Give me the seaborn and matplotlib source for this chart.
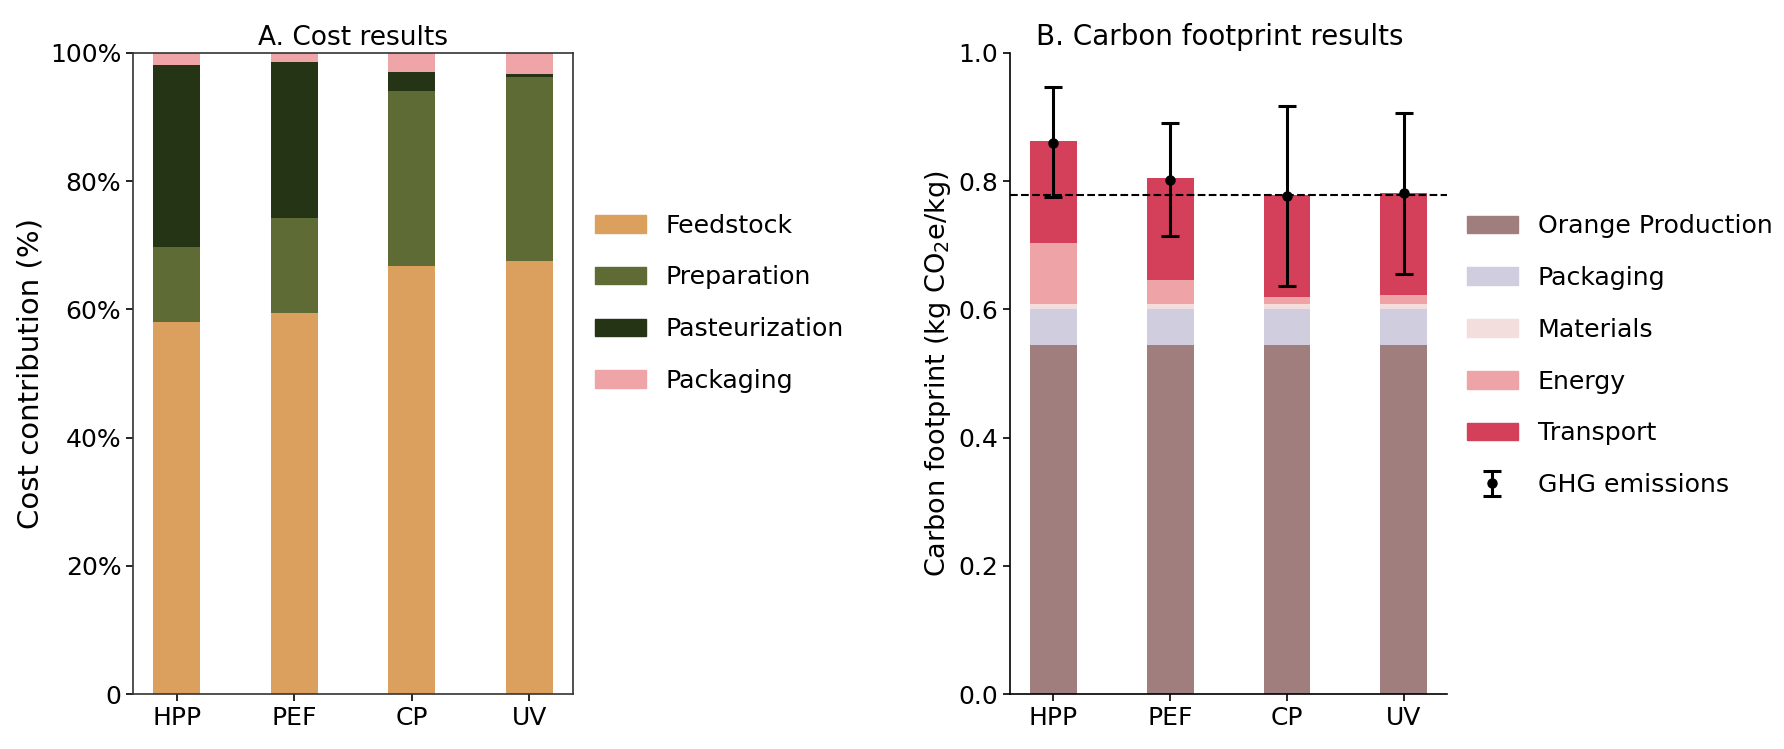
import numpy as np
import pandas as pd
import matplotlib
matplotlib.use("Agg")
import matplotlib.pyplot as plt
import matplotlib.patches as mpatches
import seaborn as sns

# Datos
procesos = ["HPP", "PEF", "CP", "UV"]

# A. Costes (% de contribución)
coste_cat = ["Feedstock", "Preparation", "Pasteurization", "Packaging"]
feedstock = [58.1, 59.4, 66.8, 67.6]
preparation = [11.6, 14.9, 27.2, 28.65]
pasteurization = [28.4, 24.2, 3.0, 0.45]
packaging_cost = [1.9, 1.5, 3.0, 3.3]
coste_colores = ["#DBA05E", "#5E6B35", "#263416", "#EFA5A7"]

# B. Huella de carbono (kg CO2e/kg)
huella_cat = ["Orange Production", "Packaging", "Materials", "Energy", "Transport"]
orange_prod = [0.545, 0.545, 0.545, 0.545]
packaging_cf = [0.055, 0.055, 0.055, 0.055]
materials = [0.008, 0.008, 0.008, 0.008]
energy = [0.095, 0.038, 0.012, 0.014]
transport = [0.159, 0.159, 0.158, 0.159]
huella_colores = ["#A07E7E", "#CFCDDE", "#F3DDDD", "#EEA4A7", "#D43F59"]

ghg_media = [0.860, 0.8015, 0.777, 0.781]
ghg_min = [0.7745, 0.715, 0.637, 0.655]
ghg_max = [0.947, 0.891, 0.917, 0.906]
referencia = 0.779

yticks_a = [0, 20, 40, 60, 80, 100]
yticks_a_lbl = ["0", "20%", "40%", "60%", "80%", "100%"]
yticks_b = [0.0, 0.2, 0.4, 0.6, 0.8, 1.0]

fig = plt.figure(figsize=(17.84, 7.49), dpi=100)
ax1 = fig.add_axes([0.0746, 0.0734, 0.2466, 0.856])
ax2 = fig.add_axes([0.5662, 0.0734, 0.2449, 0.856])


def apilar(ax, capas, colores):
    # barras acumuladas, de la más alta a la más baja
    acum = np.cumsum(np.array(capas), axis=0)
    for i in range(len(capas) - 1, -1, -1):
        df = pd.DataFrame({"proc": procesos, "val": acum[i]})
        sns.barplot(data=df, x="proc", y="val", color=colores[i], width=0.4,
                    saturation=1, ax=ax, linewidth=0)


ley_kw = dict(loc="center left", frameon=False, fontsize=18.2, labelspacing=1.1,
              borderpad=0, borderaxespad=0, handletextpad=0.8)

# --- Panel A ---
apilar(ax1, [feedstock, preparation, pasteurization, packaging_cost], coste_colores)
ax1.set_ylim(0, 100)
ax1.set_xlim(-0.37, 3.37)
ax1.set_yticks(yticks_a)
ax1.set_yticklabels(yticks_a_lbl)
ax1.set_xlabel("")
ax1.set_ylabel("Cost contribution (%)", fontsize=21)
ax1.set_title("A. Cost results", fontsize=19)
ax1.tick_params(labelsize=18, length=5, width=1.2)
for s in ax1.spines.values():
    s.set_linewidth(1.2)
    s.set_color("#333333")

h1 = [mpatches.Patch(color=c, label=l) for c, l in zip(coste_colores, coste_cat)]
fig.legend(handles=h1, bbox_to_anchor=(0.3335, 0.595), **ley_kw)

# --- Panel B ---
apilar(ax2, [orange_prod, packaging_cf, materials, energy, transport], huella_colores)
ax2.axhline(referencia, color="black", linestyle="--", linewidth=1.5, zorder=3)
x = np.arange(len(procesos))
yerr = [np.array(ghg_media) - np.array(ghg_min), np.array(ghg_max) - np.array(ghg_media)]
eb = ax2.errorbar(x, ghg_media, yerr=yerr, fmt="o", color="black", ecolor="black",
                  elinewidth=2.2, capsize=6.5, capthick=2.2, markersize=6.5, zorder=4,
                  label="GHG emissions")
ax2.set_ylim(0, 1.0)
ax2.set_xlim(-0.37, 3.37)
ax2.set_yticks(yticks_b)
ax2.set_xlabel("")
ax2.set_ylabel("Carbon footprint (kg CO$_2$e/kg)", fontsize=19.5)
ax2.set_title("B. Carbon footprint results", fontsize=20, x=0.48)
ax2.tick_params(labelsize=18, length=5, width=1.2)
sns.despine(ax=ax2)
for s in ax2.spines.values():
    s.set_linewidth(1.2)

h2 = [mpatches.Patch(color=c, label=l) for c, l in zip(huella_colores, huella_cat)]
fig.legend(handles=h2 + [eb], bbox_to_anchor=(0.8223, 0.525), **ley_kw)

fig.savefig("out.png", dpi=100)
